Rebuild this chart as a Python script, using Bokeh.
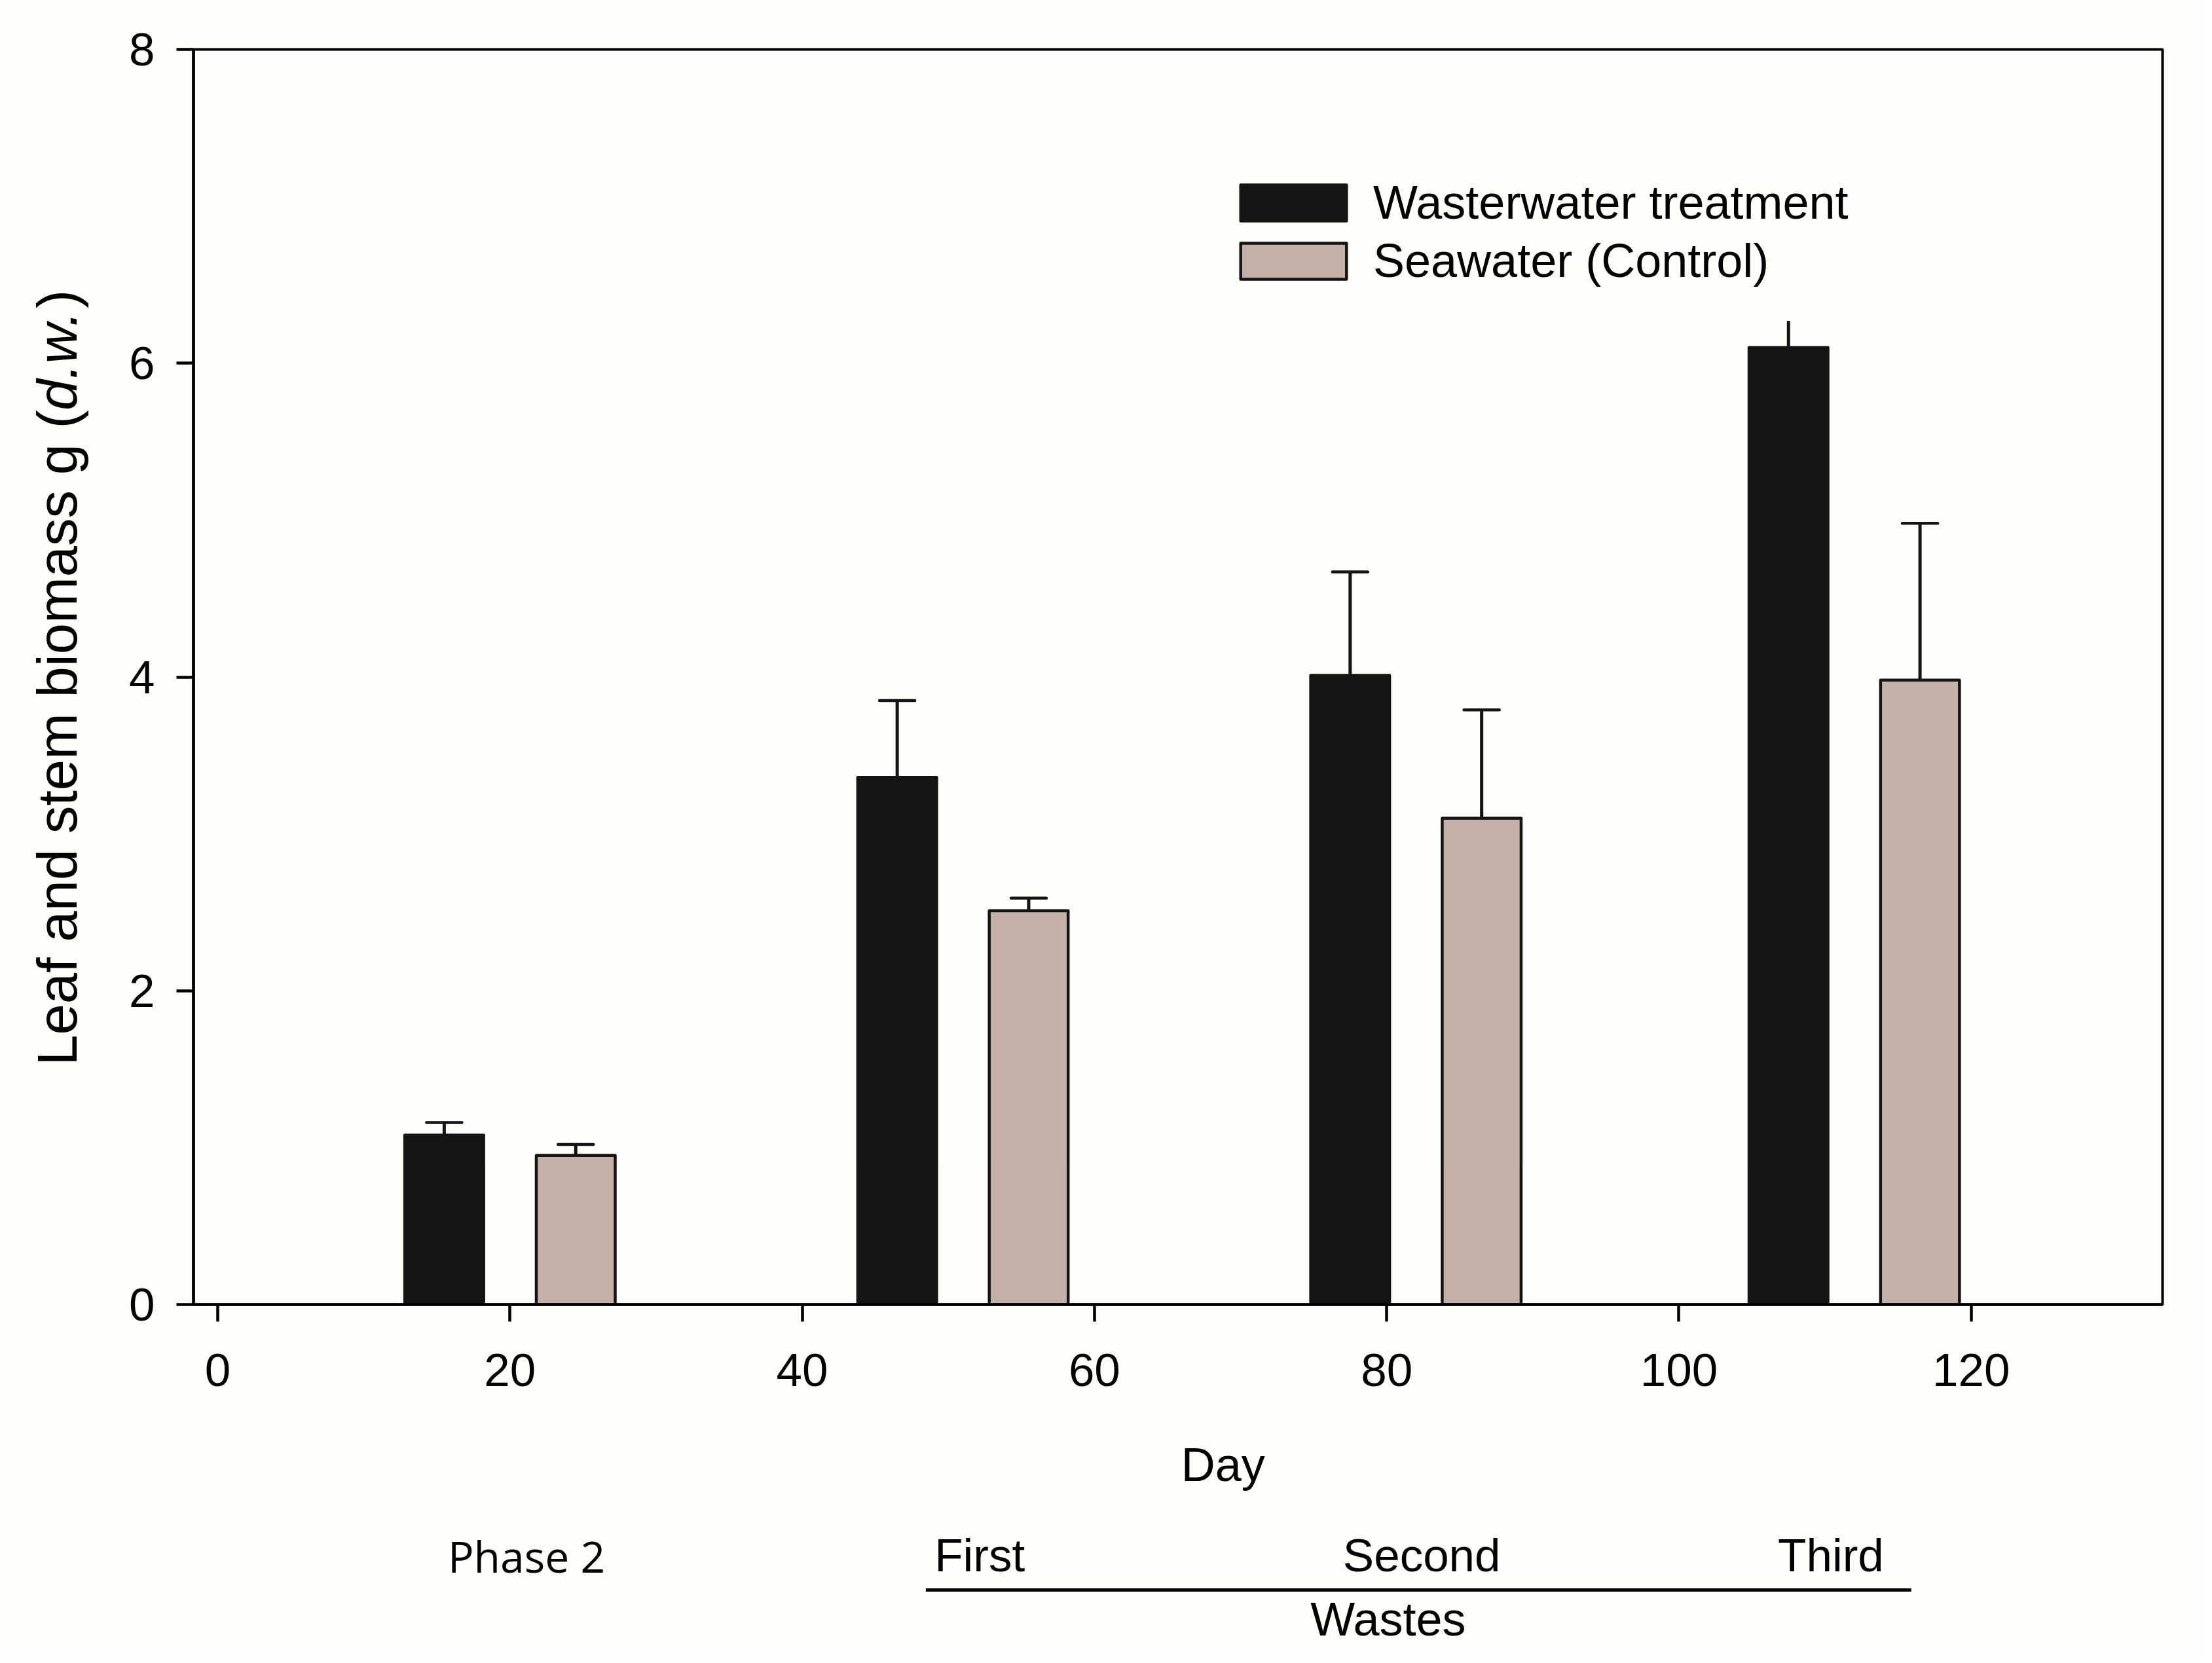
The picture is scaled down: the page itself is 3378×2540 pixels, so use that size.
from math import pi
from bokeh.plotting import figure
from bokeh.layouts import row, column
from bokeh.models import (FixedTicker, Legend, LegendItem, ColumnDataSource,
                          Range1d)
from bokeh.core.properties import value
from bokeh.embed import file_html
from bokeh.resources import INLINE

# ---------------- data ----------------
series_names = ["Wasterwater treatment", "Seawater (Control)"]
waste_day = [15.5, 46.5, 77.5, 107.5]
sea_day = [24.5, 55.5, 86.5, 116.5]
waste_mean = [1.08, 3.36, 4.01, 6.10]
waste_err = [0.08, 0.49, 0.66, 0.17]
sea_mean = [0.95, 2.51, 3.10, 3.98]
sea_err = [0.07, 0.08, 0.69, 1.00]
waste_has_cap = [True, True, True, False]
sea_has_cap = [True, True, True, True]
x_ticks = [0, 20, 40, 60, 80, 100, 120]
y_ticks = [0, 2, 4, 6, 8]
stage_labels = ["Phase 2", "First", "Second", "Third"]
group_label = "Wastes"
x_title = "Day"
y_title_parts = ["Leaf and stem biomass g (", "d.w.", ")"]

# ---------------- style / layout ----------------
FONT = "Liberation Sans"
BG = "#fefefa"
BLACK = "#141414"
TAN = "#c4b2a8"
BAR_W = 5.4
CAP_HALF = 1.21

LEFT_W = 168
MAIN_W = 3194
MAIN_H = 2192
BOT_H = 340
TOP_B = 75
BOT_B = 200

x_range = Range1d(-1.66, 133.1)
y_range = Range1d(0, 8)

# ---------------- main plot ----------------
p = figure(width=MAIN_W, height=MAIN_H,
           min_border_left=127, min_border_right=60,
           min_border_top=TOP_B, min_border_bottom=BOT_B,
           x_range=x_range, y_range=y_range,
           output_backend="svg", toolbar_location=None)
p.background_fill_color = BG
p.border_fill_color = BG
p.outline_line_color = "black"
p.outline_line_width = 4
p.xgrid.visible = False
p.ygrid.visible = False

for ax, ticks in ((p.xaxis[0], x_ticks), (p.yaxis[0], y_ticks)):
    ax.ticker = FixedTicker(ticks=ticks)
    ax.axis_line_width = 4.5
    ax.axis_line_color = "black"
    ax.major_tick_line_width = 4.5
    ax.major_tick_in = 0
    ax.major_tick_out = 26
    ax.minor_tick_out = 0
    ax.minor_tick_in = 0
    ax.major_label_text_font = FONT
    ax.major_label_text_font_size = "71px"
    ax.major_label_text_color = "black"
p.xaxis[0].major_label_standoff = 49
p.yaxis[0].major_label_standoff = 33


def error_sources(xs, means, errs, caps):
    stem = ColumnDataSource(dict(x=xs, y0=means,
                                 y1=[m + e for m, e in zip(means, errs)]))
    cx = [x for x, c in zip(xs, caps) if c]
    cy = [m + e for m, e, c in zip(means, errs, caps) if c]
    cap = ColumnDataSource(dict(x0=[x - CAP_HALF for x in cx],
                                x1=[x + CAP_HALF for x in cx], y=cy))
    return stem, cap


for xs, means, errs, caps in ((waste_day, waste_mean, waste_err, waste_has_cap),
                              (sea_day, sea_mean, sea_err, sea_has_cap)):
    stem, cap = error_sources(xs, means, errs, caps)
    p.segment(x0="x", y0="y0", x1="x", y1="y1", source=stem,
              line_color=BLACK, line_width=5)
    p.segment(x0="x0", y0="y", x1="x1", y1="y", source=cap,
              line_color=BLACK, line_width=4.5, line_cap="round")

r_waste = p.vbar(x=waste_day, top=waste_mean, bottom=0, width=BAR_W,
                 fill_color=BLACK, line_color=BLACK, line_width=4.5,
                 line_join="round")
r_sea = p.vbar(x=sea_day, top=sea_mean, bottom=0, width=BAR_W,
               fill_color=TAN, line_color=BLACK, line_width=4.5,
               line_join="round")

legend = Legend(items=[LegendItem(label=series_names[0], renderers=[r_waste]),
                       LegendItem(label=series_names[1], renderers=[r_sea])],
                location=(1579, 1553), orientation="vertical",
                glyph_width=202, glyph_height=69, label_standoff=21,
                spacing=7, padding=0, margin=0,
                label_text_font=FONT, label_text_font_size="72px",
                label_text_color="black",
                border_line_color=None, background_fill_alpha=0)
p.add_layout(legend)

# ---------------- left strip: y title (upright + italic parts) ----------------
yl = figure(width=LEFT_W, height=MAIN_H + BOT_H,
            min_border_left=0, min_border_right=0,
            min_border_top=TOP_B, min_border_bottom=BOT_B + BOT_H,
            x_range=Range1d(0, LEFT_W), y_range=y_range,
            x_axis_location=None, y_axis_location=None,
            output_backend="svg", toolbar_location=None)
yl.background_fill_color = BG
yl.border_fill_color = BG
yl.outline_line_color = None
yl.xgrid.visible = False
yl.ygrid.visible = False
ytitle_y = [1.522, 5.700, 6.350]
ytitle_style = ["normal", "italic", "normal"]
for txt, yy, st in zip(y_title_parts, ytitle_y, ytitle_style):
    yl.text(x=[87], y=[yy], text=[txt], angle=pi / 2,
            text_font=value(FONT), text_font_size="85px",
            text_font_style=st, text_color="black",
            text_align="left", text_baseline="alphabetic")

# ---------------- bottom strip: x title and stage annotations ----------------
bt = figure(width=MAIN_W, height=BOT_H, min_border_left=127, min_border_right=60,
            min_border_top=0, min_border_bottom=0,
            x_range=x_range, y_range=Range1d(MAIN_H + BOT_H, MAIN_H),
            x_axis_location=None, y_axis_location=None,
            output_backend="svg", toolbar_location=None)
bt.background_fill_color = BG
bt.border_fill_color = BG
bt.outline_line_color = None
bt.xgrid.visible = False
bt.ygrid.visible = False

bt.text(x=[68.8], y=[2236], text=[x_title], text_font=value(FONT),
        text_font_size="72px", text_color="black",
        text_align="center", text_baseline="alphabetic")

stage_x = [21.13, 52.15, 82.4, 110.4]
stage_font = ["Open Sans", FONT, FONT, FONT]
stage_size = ["66px", "71px", "71px", "71px"]
for txt, sx, fnt, fs in zip(stage_labels, stage_x, stage_font, stage_size):
    bt.text(x=[sx], y=[2375], text=[txt], text_font=value(fnt),
            text_font_size=fs, text_color="black",
            text_align="center", text_baseline="alphabetic")

bt.segment(x0=[48.46], y0=[2428], x1=[115.9], y1=[2428],
           line_color="black", line_width=5)

bt.text(x=[80.1], y=[2472], text=[group_label], text_font=value(FONT),
        text_font_size="72px", text_color="black",
        text_align="center", text_baseline="alphabetic")

layout = row(yl, column(p, bt))
open("out.html", "w").write(file_html(layout, INLINE))
